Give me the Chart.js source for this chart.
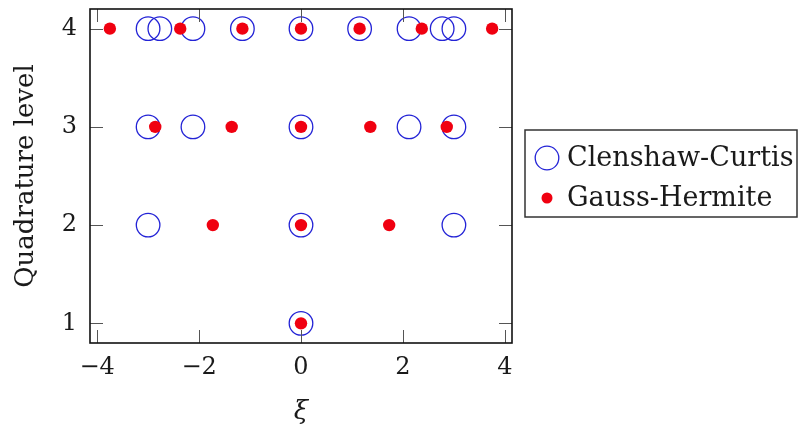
<!DOCTYPE html>
<html lang="en">
<head>
<meta charset="UTF-8">
<title>Quadrature points</title>
<script src="https://cdn.jsdelivr.net/npm/chart.js@4"></script>
<style>
  body { margin: 0; background: #fff; }
  #wrap { width: 800px; height: 428px; }
</style>
</head>
<body>
<div id="wrap"><canvas id="quadChart" width="800" height="428"></canvas></div>
<script>
// quadrature levels (y) and node positions per level (x)
const levels = [1, 2, 3, 4];
const ccNodes = [
    [0],
    [-3, 0, 3],
    [-3, -2.12, 0, 2.12, 3],
    [-3, -2.77, -2.12, -1.15, 0, 1.15, 2.12, 2.77, 3]
];
const ghNodes = [
    [0],
    [-1.73, 0, 1.73],
    [-2.86, -1.36, 0, 1.36, 2.86],
    [-3.75, -2.37, -1.15, 0, 1.15, 2.37, 3.75]
];
const seriesNames = ['Clenshaw-Curtis', 'Gauss-Hermite'];
const xTicks = [-4, -2, 0, 2, 4];
const yTicks = [1, 2, 3, 4];

const blue = '#2323d6';
const red = '#f00010';
const serif = "'DejaVu Serif', serif";

function toPoints(nodes) {
    const pts = [];
    nodes.forEach((row, i) => row.forEach(x => pts.push({ x: x, y: levels[i] })));
    return pts;
}

function fmt(v) {
    return v < 0 ? '\u2212' + Math.abs(v) : String(v);
}

// box around the axes, inward ticks on all sides, legend on the right
const frameAndLegend = {
    id: 'frameAndLegend',
    afterDraw(chart) {
        const { ctx, chartArea: a, scales: { x, y } } = chart;
        const tl = 13;
        ctx.save();
        ctx.strokeStyle = '#555';
        ctx.lineWidth = 1;
        ctx.beginPath();
        xTicks.forEach(v => {
            const px = Math.round(x.getPixelForValue(v)) + 0.5;
            ctx.moveTo(px, a.bottom); ctx.lineTo(px, a.bottom - tl);
            ctx.moveTo(px, a.top); ctx.lineTo(px, a.top + tl);
        });
        yTicks.forEach(v => {
            const py = Math.round(y.getPixelForValue(v)) + 0.5;
            ctx.moveTo(a.left, py); ctx.lineTo(a.left + tl, py);
            ctx.moveTo(a.right, py); ctx.lineTo(a.right - tl, py);
        });
        ctx.stroke();

        ctx.strokeStyle = '#111';
        ctx.lineWidth = 1.6;
        ctx.strokeRect(a.left, a.top, a.right - a.left, a.bottom - a.top);

        // legend
        const lx = 525, ly = 130, lw = 272, lh = 87;
        ctx.strokeStyle = '#333';
        ctx.lineWidth = 1.5;
        ctx.strokeRect(lx, ly, lw, lh);

        ctx.beginPath();
        ctx.strokeStyle = blue;
        ctx.lineWidth = 1.3;
        ctx.arc(547, 158, 11.8, 0, Math.PI * 2);
        ctx.stroke();

        ctx.beginPath();
        ctx.fillStyle = red;
        ctx.arc(547, 198, 5.5, 0, Math.PI * 2);
        ctx.fill();

        ctx.fillStyle = '#1a1a1a';
        ctx.font = "27px " + serif;
        ctx.textBaseline = 'alphabetic';
        ctx.textAlign = 'left';
        ctx.fillText(seriesNames[0], 567, 166);
        ctx.fillText(seriesNames[1], 567, 206);
        ctx.restore();
    }
};

const ctx = document.getElementById('quadChart').getContext('2d');
const quadChart = new Chart(ctx, {
    type: 'scatter',
    data: {
        datasets: [
            {
                label: seriesNames[0],
                data: toPoints(ccNodes),
                pointStyle: 'circle',
                pointRadius: 11.8,
                pointBorderWidth: 1.3,
                pointBorderColor: blue,
                pointBackgroundColor: 'rgba(0,0,0,0)',
                order: 2
            },
            {
                label: seriesNames[1],
                data: toPoints(ghNodes),
                pointStyle: 'circle',
                pointRadius: 6.2,
                pointBorderWidth: 0,
                pointBackgroundColor: red,
                order: 1
            }
        ]
    },
    options: {
        responsive: false,
        animation: false,
        layout: { autoPadding: false, padding: { left: 0, top: 9, right: 288, bottom: 0 } },
        plugins: {
            legend: { display: false },
            tooltip: { enabled: false }
        },
        scales: {
            x: {
                type: 'linear',
                min: -4.14,
                max: 4.14,
                afterBuildTicks: s => { s.ticks = xTicks.map(v => ({ value: v })); },
                afterFit: s => { s.height = 85; s.paddingLeft = 0; s.paddingRight = 0; },
                grid: { display: false, drawTicks: false },
                border: { display: false },
                ticks: {
                    padding: 10,
                    color: '#1a1a1a',
                    font: { family: serif, size: 24 },
                    callback: v => fmt(v)
                },
                title: {
                    display: true,
                    text: '\u03BE',
                    color: '#1a1a1a',
                    font: { family: serif, size: 26, style: 'italic' },
                    padding: { top: 0, bottom: 0 }
                }
            },
            y: {
                type: 'linear',
                min: 0.8,
                max: 4.2,
                afterBuildTicks: s => { s.ticks = yTicks.map(v => ({ value: v })); },
                afterFit: s => { s.width = 90; s.paddingTop = 0; s.paddingBottom = 0; },
                grid: { display: false, drawTicks: false },
                border: { display: false },
                ticks: {
                    padding: 13,
                    color: '#1a1a1a',
                    font: { family: serif, size: 24 },
                    callback: v => fmt(v)
                },
                title: {
                    display: true,
                    text: 'Quadrature level',
                    color: '#1a1a1a',
                    font: { family: serif, size: 26 },
                    padding: { top: 11, bottom: 0 }
                }
            }
        }
    },
    plugins: [frameAndLegend]
});
</script>
</body>
</html>
